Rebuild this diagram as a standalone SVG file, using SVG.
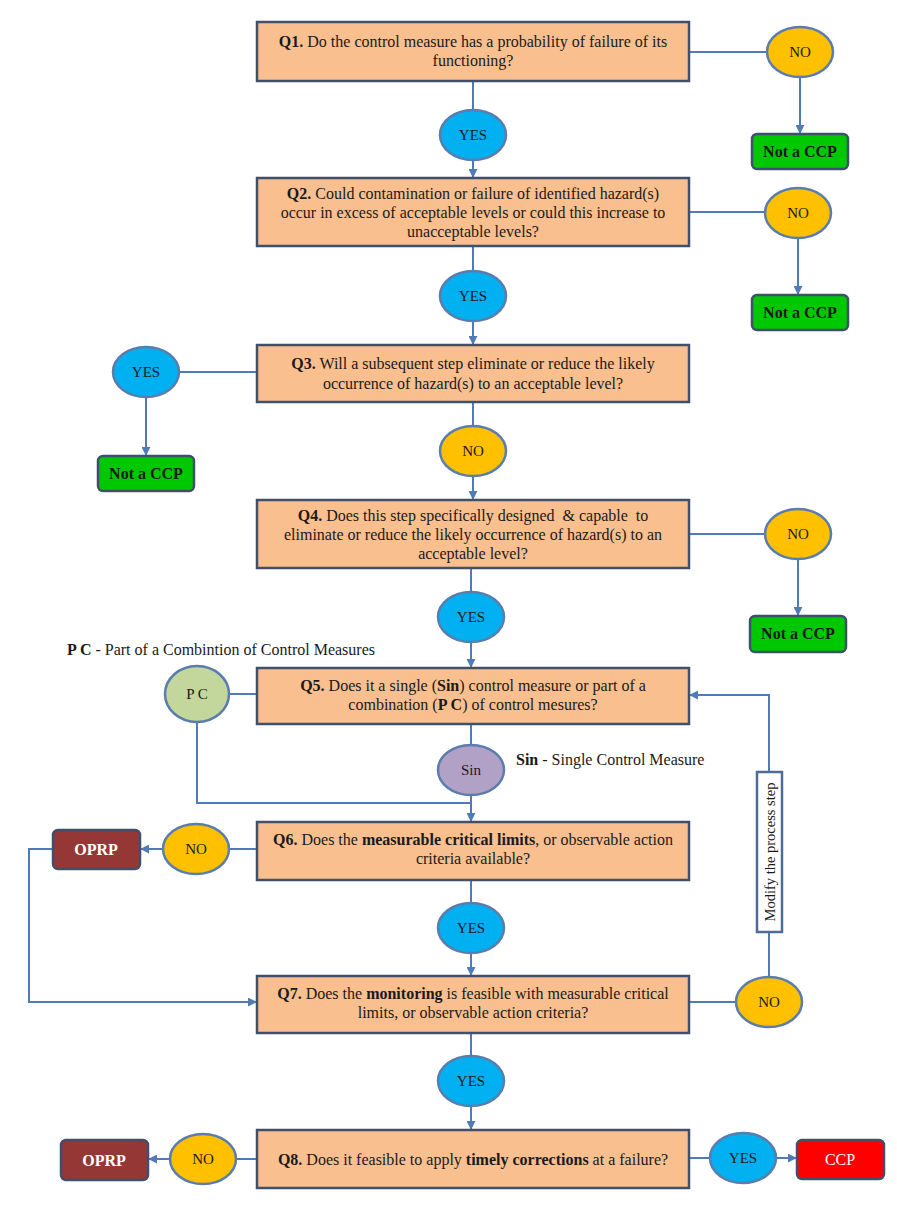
<svg xmlns="http://www.w3.org/2000/svg" width="897" height="1211" viewBox="0 0 897 1211">
<defs>
<marker id="ah" viewBox="0 0 10 10" refX="9" refY="5" markerWidth="9" markerHeight="9" markerUnits="userSpaceOnUse" orient="auto">
<path d="M0,0 L10,5 L0,10 z" fill="#4F7CB8"/>
</marker>
<style>
.q{fill:#F9BF8F;stroke:#3F4F6C;stroke-width:2.5}
.t{font-family:"Liberation Serif","DejaVu Serif",serif;font-size:16px;fill:#1a1a1a;text-anchor:middle}
.s{font-size:15px}
.b{font-weight:bold}
.yes{fill:#00B0F0;stroke:#5A7DAE;stroke-width:2.5}
.no{fill:#FFC000;stroke:#5A7DAE;stroke-width:2.5}
.pc{fill:#C3D69B;stroke:#5A7DAE;stroke-width:2.5}
.sin{fill:#B2A1C7;stroke:#5A7DAE;stroke-width:2.5}
.nc{fill:#00C800;stroke:#3F4F6C;stroke-width:2.5}
.op{fill:#953735;stroke:#3F4F6C;stroke-width:2.5}
.ccp{fill:#FF0000;stroke:#3F4F6C;stroke-width:2.5}
.w{fill:#ffffff}
.c{fill:none;stroke:#4F7CB8;stroke-width:2}
.ca{fill:none;stroke:#4F7CB8;stroke-width:2;marker-end:url(#ah)}
</style>
</defs>
<rect width="897" height="1211" fill="#ffffff"/>

<g id="connectors">
<path class="c" d="M689,52 H767"/>
<path class="ca" d="M800,77 V133"/>
<path class="c" d="M473,81 V110"/>
<path class="ca" d="M473,160 V177"/>
<path class="c" d="M689,212 H765"/>
<path class="ca" d="M798,238 V294"/>
<path class="c" d="M473,246 V271"/>
<path class="ca" d="M473,321 V344"/>
<path class="c" d="M257,372 H179"/>
<path class="ca" d="M146,397 V455"/>
<path class="c" d="M473,402 V426"/>
<path class="ca" d="M473,476 V499"/>
<path class="c" d="M689,534 H765"/>
<path class="ca" d="M798,559 V615"/>
<path class="c" d="M471,568 V592"/>
<path class="ca" d="M471,642 V667"/>
<path class="c" d="M257,694 H229"/>
<path class="c" d="M471,724 V745"/>
<path class="c" d="M197,722 V803 H471"/>
<path class="ca" d="M471,795 V821"/>
<path class="c" d="M257,849 H229"/>
<path class="ca" d="M163,849 H141"/>
<path class="ca" d="M53,849 H29 V1002 H256"/>
<path class="c" d="M471,880 V903"/>
<path class="ca" d="M471,953 V975"/>
<path class="c" d="M689,1002 H736"/>
<path class="c" d="M769,977 V932"/>
<path class="ca" d="M769,772 V695 H690"/>
<path class="c" d="M471,1033 V1056"/>
<path class="ca" d="M471,1106 V1129"/>
<path class="c" d="M257,1159 H236"/>
<path class="ca" d="M170,1159 H149"/>
<path class="c" d="M689,1158 H710"/>
<path class="ca" d="M776,1158 H796"/>
</g>

<g id="q1">
<rect class="q" x="257" y="22" width="432" height="59"/>
<text class="t" x="473" y="47"><tspan class="b">Q1.</tspan> Do the control measure has a probability of failure of its</text>
<text class="t" x="473" y="66">functioning?</text>
</g>
<g id="q1-no"><ellipse class="no" cx="800" cy="52" rx="33" ry="25"/><text class="t s" x="800" y="57">NO</text></g>
<g id="q1-ncp"><rect class="nc" x="752" y="134" width="96" height="35" rx="5"/><text class="t b" x="800" y="157">Not a CCP</text></g>
<g id="q1-yes"><ellipse class="yes" cx="473" cy="135" rx="33" ry="25"/><text class="t s" x="473" y="140">YES</text></g>

<g id="q2">
<rect class="q" x="257" y="178" width="432" height="68"/>
<text class="t" x="473" y="199"><tspan class="b">Q2.</tspan> Could contamination or failure of identified hazard(s)</text>
<text class="t" x="473" y="218">occur in excess of acceptable levels or could this increase to</text>
<text class="t" x="473" y="237">unacceptable levels?</text>
</g>
<g id="q2-no"><ellipse class="no" cx="798" cy="213" rx="33" ry="25"/><text class="t s" x="798" y="218">NO</text></g>
<g id="q2-ncp"><rect class="nc" x="752" y="295" width="96" height="35" rx="5"/><text class="t b" x="800" y="318">Not a CCP</text></g>
<g id="q2-yes"><ellipse class="yes" cx="473" cy="296" rx="33" ry="25"/><text class="t s" x="473" y="301">YES</text></g>

<g id="q3">
<rect class="q" x="257" y="345" width="432" height="57"/>
<text class="t" x="473" y="369"><tspan class="b">Q3.</tspan> Will a subsequent step eliminate or reduce the likely</text>
<text class="t" x="473" y="389">occurrence of hazard(s) to an acceptable level?</text>
</g>
<g id="q3-yes"><ellipse class="yes" cx="146" cy="372" rx="33" ry="25"/><text class="t s" x="146" y="377">YES</text></g>
<g id="q3-ncp"><rect class="nc" x="98" y="456" width="96" height="35" rx="5"/><text class="t b" x="146" y="479">Not a CCP</text></g>
<g id="q3-no"><ellipse class="no" cx="473" cy="451" rx="33" ry="25"/><text class="t s" x="473" y="456">NO</text></g>

<g id="q4">
<rect class="q" x="257" y="500" width="432" height="68"/>
<text class="t" x="473" y="521" xml:space="preserve"><tspan class="b">Q4.</tspan> Does this step specifically designed  &amp; capable  to</text>
<text class="t" x="473" y="540">eliminate or reduce the likely occurrence of hazard(s) to an</text>
<text class="t" x="473" y="559">acceptable level?</text>
</g>
<g id="q4-no"><ellipse class="no" cx="798" cy="534" rx="33" ry="25"/><text class="t s" x="798" y="539">NO</text></g>
<g id="q4-ncp"><rect class="nc" x="750" y="616" width="96" height="36" rx="5"/><text class="t b" x="798" y="639">Not a CCP</text></g>
<g id="q4-yes"><ellipse class="yes" cx="471" cy="617" rx="33" ry="25"/><text class="t s" x="471" y="622">YES</text></g>

<g id="pc-label"><text class="t" x="67" y="655" style="text-anchor:start"><tspan class="b">P C</tspan> - Part of a Combintion of Control Measures</text></g>

<g id="q5">
<rect class="q" x="257" y="668" width="432" height="56"/>
<text class="t" x="473" y="691"><tspan class="b">Q5.</tspan> Does it a single (<tspan class="b">Sin</tspan>) control measure or part of a</text>
<text class="t" x="473" y="710">combination (<tspan class="b">P C</tspan>) of control mesures?</text>
</g>
<g id="pc"><ellipse class="pc" cx="197" cy="694" rx="32" ry="28"/><text class="t s" x="197" y="699">P C</text></g>
<g id="sin"><ellipse class="sin" cx="471" cy="770" rx="33" ry="25"/><text class="t s" x="471" y="775">Sin</text></g>
<g id="sin-label"><text class="t" x="516" y="765" style="text-anchor:start"><tspan class="b">Sin</tspan> - Single Control Measure</text></g>

<g id="q6">
<rect class="q" x="257" y="822" width="432" height="58"/>
<text class="t" x="473" y="845"><tspan class="b">Q6.</tspan> Does the <tspan class="b">measurable critical limits</tspan>, or observable action</text>
<text class="t" x="473" y="864">criteria available?</text>
</g>
<g id="q6-no"><ellipse class="no" cx="196" cy="849" rx="33" ry="25"/><text class="t s" x="196" y="854">NO</text></g>
<g id="q6-oprp"><rect class="op" x="53" y="830" width="87" height="39" rx="5"/><text class="t b w" x="96" y="855">OPRP</text></g>
<g id="q6-yes"><ellipse class="yes" cx="471" cy="928" rx="33" ry="25"/><text class="t s" x="471" y="933">YES</text></g>

<g id="modify">
<rect x="757" y="772" width="25" height="160" fill="#ffffff" stroke="#4F6C94" stroke-width="2.5"/>
<text class="t" x="0" y="0" style="font-size:14.5px" transform="translate(774.5,852) rotate(-90)">Modify the process step</text>
</g>

<g id="q7">
<rect class="q" x="257" y="976" width="432" height="57"/>
<text class="t" x="473" y="999"><tspan class="b">Q7.</tspan> Does the <tspan class="b">monitoring</tspan> is feasible with measurable critical</text>
<text class="t" x="473" y="1018">limits, or observable action criteria?</text>
</g>
<g id="q7-no"><ellipse class="no" cx="769" cy="1002" rx="33" ry="25"/><text class="t s" x="769" y="1007">NO</text></g>
<g id="q7-yes"><ellipse class="yes" cx="471" cy="1081" rx="33" ry="25"/><text class="t s" x="471" y="1086">YES</text></g>

<g id="q8">
<rect class="q" x="257" y="1130" width="432" height="58"/>
<text class="t" x="473" y="1165"><tspan class="b">Q8.</tspan> Does it feasible to apply <tspan class="b">timely corrections</tspan> at a failure?</text>
</g>
<g id="q8-no"><ellipse class="no" cx="203" cy="1159" rx="33" ry="25"/><text class="t s" x="203" y="1164">NO</text></g>
<g id="q8-oprp"><rect class="op" x="61" y="1140" width="87" height="40" rx="5"/><text class="t b w" x="104" y="1166">OPRP</text></g>
<g id="q8-yes"><ellipse class="yes" cx="743" cy="1158" rx="33" ry="25"/><text class="t s" x="743" y="1163">YES</text></g>
<g id="q8-ccp"><rect class="ccp" x="797" y="1140" width="87" height="39" rx="5"/><text class="t w" x="840" y="1165">CCP</text></g>
</svg>
